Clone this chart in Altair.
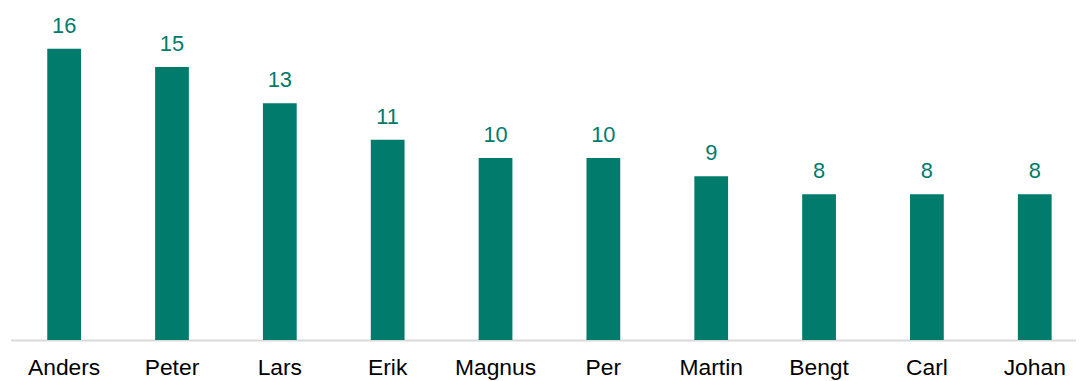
import altair as alt
import pandas as pd

names = ["Anders", "Peter", "Lars", "Erik", "Magnus", "Per", "Martin", "Bengt", "Carl", "Johan"]
counts = [16, 15, 13, 11, 10, 10, 9, 8, 8, 8]

df = pd.DataFrame({"name": names, "count": counts})

TEAL = "#007B6C"

x = alt.X(
    "name:N",
    sort=names,
    scale=alt.Scale(range=[0.5, 1086.5], paddingInner=0.687, paddingOuter=0.341),
    axis=alt.Axis(
        title=None,
        labelAngle=0,
        labelFont="Liberation Sans",
        labelFontSize=23,
        labelColor="#000000",
        labelPadding=17,
        ticks=False,
        domainColor="#D9D9D9",
        domainWidth=2,
        grid=False,
    ),
)
y = alt.Y(
    "count:Q",
    scale=alt.Scale(domain=[0, 18], nice=False),
    axis=None,
)

bars = alt.Chart(df).mark_bar(color=TEAL).encode(x=x, y=y)
labels = alt.Chart(df).mark_text(
    color=TEAL,
    font="Liberation Sans",
    fontSize=22,
    baseline="alphabetic",
    dy=-16,
).encode(x=x, y=y, text="count:Q")

chart = (
    alt.layer(bars, labels)
    .properties(
        width=1074,
        height=330,
        autosize=alt.AutoSizeParams(type="none"),
        padding={"left": 2, "top": 3, "right": 0, "bottom": 40},
    )
    .configure(background="white", view=alt.ViewConfig(stroke=None))
)

chart.save("out.html", embed_options={"renderer": "svg", "actions": False})
